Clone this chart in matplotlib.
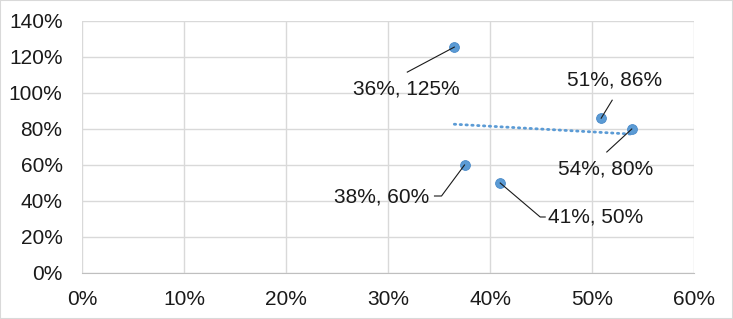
import numpy as np
import matplotlib.pyplot as plt
from matplotlib.lines import Line2D
from matplotlib.ticker import PercentFormatter

plt.rcParams['font.family'] = ['Liberation Sans', 'DejaVu Sans']

# data (fractions in %)
x_vals = [36.5, 50.9, 53.9, 37.5, 41.0]
y_vals = [125.5, 86.0, 80.0, 60.0, 50.0]
labels = ["36%, 125%", "51%, 86%", "54%, 80%", "38%, 60%", "41%, 50%"]

x_ticks = [0, 10, 20, 30, 40, 50, 60]
y_ticks = [0, 20, 40, 60, 80, 100, 120, 140]

# label layout: leader vertices and text offset (pixels from point), alignment
leaders = [
    [(-47, -25)],
    [(11, 18)],
    [(-25, -23)],
    [(-23, -31), (-30, -31)],
    [(40, -34), (45, -34)],
]
text_off = [(-48, -42), (13, 38), (-26, -40), (-35, -32), (48, -34)]
text_ha = ["center", "center", "center", "right", "left"]

blue = "#5b9bd5"
grid_c = "#d9d9d9"
txt_c = "#1a1a1a"

fig = plt.figure(figsize=(7.33, 3.19), dpi=100)
ax = fig.add_axes([82 / 733, 46 / 319, 612 / 733, 252 / 319])

ax.set_xlim(0, 60)
ax.set_ylim(0, 140)
ax.set_xticks(x_ticks)
ax.set_yticks(y_ticks)
ax.xaxis.set_major_formatter(PercentFormatter(decimals=0))
ax.yaxis.set_major_formatter(PercentFormatter(decimals=0))
ax.grid(True, color=grid_c, linewidth=1)
ax.set_axisbelow(True)
for side in ["top", "right", "left"]:
    ax.spines[side].set_visible(False)
ax.spines["bottom"].set_color("#bfbfbf")
ax.tick_params(length=0, labelsize=15, colors=txt_c)
ax.tick_params(axis="x", pad=12)
ax.tick_params(axis="y", pad=14)

# linear trendline
k, b = np.polyfit(x_vals, y_vals, 1)
xt = np.array([min(x_vals), max(x_vals)])
ax.plot(xt, k * xt + b, color=blue, linewidth=2.0, linestyle=(0, (0.5, 1.6)),
        dash_capstyle="round", zorder=2)

ax.scatter(x_vals, y_vals, s=50, color=blue, edgecolor="#4a8ac8",
           linewidth=0.6, zorder=3)

# data labels with leader lines
for xv, yv, lab, verts, off, ha in zip(x_vals, y_vals, labels, leaders,
                                       text_off, text_ha):
    px, py = ax.transData.transform((xv, yv))
    xs = [px] + [px + dx for dx, dy in verts]
    ys = [py] + [py + dy for dx, dy in verts]
    fig.add_artist(Line2D(xs, ys, color="#1a1a1a", linewidth=0.8,
                          transform=None, zorder=4))
    ax.annotate(lab, xy=(xv, yv), xytext=off, textcoords="offset pixels",
                ha=ha, va="center", fontsize=15, color=txt_c)

# chart border
fig.add_artist(plt.Rectangle((0, 0), 1, 1, transform=fig.transFigure,
                             fill=False, edgecolor="#d9d9d9", linewidth=1.5))

fig.savefig("out.png", dpi=100)
